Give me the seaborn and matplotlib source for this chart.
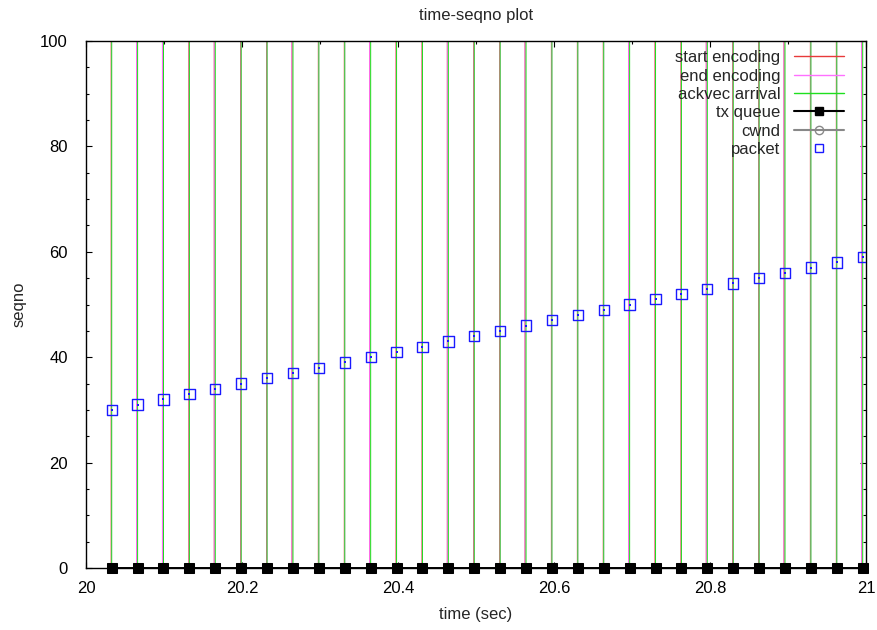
import matplotlib
matplotlib.use("Agg")
import matplotlib.pyplot as plt
from matplotlib.lines import Line2D
from matplotlib.ticker import MultipleLocator
import numpy as np
import pandas as pd
import seaborn as sns

# packet sequence numbers and the times they were sent (sec)
seqno = list(range(30, 60))
send_time = [20.0330, 20.0662, 20.0994, 20.1326, 20.1658, 20.1990, 20.2322,
             20.2654, 20.2986, 20.3318, 20.3650, 20.3982, 20.4314, 20.4646,
             20.4978, 20.5310, 20.5642, 20.5974, 20.6306, 20.6638, 20.6970,
             20.7302, 20.7634, 20.7966, 20.8298, 20.8630, 20.8962, 20.9294,
             20.9626, 20.9958]

# encoder events (sec)
start_encoding = [20.0323, 20.0649, 20.0981, 20.1319, 20.1645, 20.1983, 20.2316,
                  20.2641, 20.2979, 20.3312, 20.3637, 20.3975, 20.4308, 20.4633,
                  20.4971, 20.5304, 20.5629, 20.5967, 20.6300, 20.6632, 20.6957,
                  20.7295, 20.7628, 20.7953, 20.8291, 20.8624, 20.8949, 20.9287,
                  20.9620, 20.9945]
end_encoding = [20.0328, 20.0649, 20.0981, 20.1324, 20.1645, 20.1988, 20.2321,
                20.2641, 20.2984, 20.3317, 20.3637, 20.3980, 20.4313, 20.4633,
                20.4976, 20.5309, 20.5629, 20.5972, 20.6305, 20.6637, 20.6957,
                20.7300, 20.7633, 20.7953, 20.8296, 20.8629, 20.8949, 20.9292,
                20.9625, 20.9945]
ackvec_arrival = send_time

# transmit queue length sampled at each send
tx_queue = [0] * 30

# congestion window samples (none in this interval)
cwnd_time = []
cwnd_value = []

xticks = [20, 20.2, 20.4, 20.6, 20.8, 21]
xticklabels = ["20", "20.2", "20.4", "20.6", "20.8", "21"]
yticks = [0, 20, 40, 60, 80, 100]

packets = pd.DataFrame({"time": send_time, "seqno": seqno})
queue = pd.DataFrame({"time": send_time, "len": tx_queue})

sns.set_theme(style="white")
plt.rcParams["font.family"] = ["Liberation Sans", "DejaVu Sans"]
plt.rcParams["font.size"] = 12

C_START = "#e83a3a"
C_END = "#ff70ff"
C_ACK = "#1ee01e"
C_QUEUE = "#000000"
C_CWND = "#888888"
C_PKT = "#1a1aff"

fig = plt.figure(figsize=(8.78, 6.30), dpi=100)
ax = fig.add_axes([0.0979, 0.0984, 0.8884, 0.8365])

for xs, col, z in ((start_encoding, C_START, 1.0),
                   (end_encoding, C_END, 1.1),
                   (ackvec_arrival, C_ACK, 1.2)):
    lc = ax.vlines(xs, 0, 100, colors=col, linewidth=0.72, zorder=z)
    lc.set_snap(False)

sns.lineplot(data=queue, x="time", y="len", ax=ax, color=C_QUEUE, linewidth=1.4,
             marker="s", markersize=7, markeredgecolor=C_QUEUE,
             markerfacecolor=C_QUEUE, clip_on=False, zorder=3)
ax.plot(cwnd_time, cwnd_value, color=C_CWND, marker="o")

sns.scatterplot(data=packets, x="time", y="seqno", ax=ax, marker="s", s=55,
                facecolor="none", edgecolor=C_PKT, linewidth=1.0, zorder=4)
sns.scatterplot(data=packets, x="time", y="seqno", ax=ax, marker="s", s=2,
                color=C_PKT, linewidth=0, zorder=4)

ax.set_xlim(20, 21)
ax.set_ylim(0, 100)
ax.set_xticks(xticks)
ax.set_xticklabels(xticklabels)
ax.set_yticks(yticks)
ax.xaxis.set_minor_locator(MultipleLocator(0.1))
ax.yaxis.set_minor_locator(MultipleLocator(5))
ax.tick_params(which="both", direction="in", top=True, right=True,
               bottom=True, left=True, colors="black", labelsize=12)
ax.tick_params(which="major", length=4.5, width=0.8)
ax.tick_params(which="minor", length=2.2, width=0.8)
ax.tick_params(axis="x", which="major", pad=9)
ax.tick_params(axis="y", which="major", pad=13)
for sp in ax.spines.values():
    sp.set_color("black")
    sp.set_linewidth(1.0)
    sp.set_visible(True)
ax.grid(False)

ax.set_xlabel("time (sec)", fontsize=12, labelpad=8)
ax.set_ylabel("seqno", fontsize=12, labelpad=10)
ax.set_title("time-seqno plot", fontsize=12, pad=15)

handles = [
    Line2D([], [], color=C_START, lw=1.0),
    Line2D([], [], color=C_END, lw=1.0),
    Line2D([], [], color=C_ACK, lw=1.0),
    Line2D([], [], color=C_QUEUE, lw=1.5, marker="s", markersize=6),
    Line2D([], [], color=C_CWND, lw=1.5, marker="o", markersize=6,
           markerfacecolor="none"),
    Line2D([], [], color=C_PKT, lw=0, marker="s", markersize=6,
           markerfacecolor="none"),
]
labels = ["start encoding", "end encoding", "ackvec arrival", "tx queue",
          "cwnd", "packet"]
leg = ax.legend(handles, labels, loc="upper right", markerfirst=False,
                frameon=False, fontsize=12, handlelength=3.0,
                handletextpad=0.8, labelspacing=0.2,
                bbox_to_anchor=(0.98, 0.995), borderaxespad=0.0)
leg.set_zorder(10)

fig.savefig("out.png", dpi=100)
